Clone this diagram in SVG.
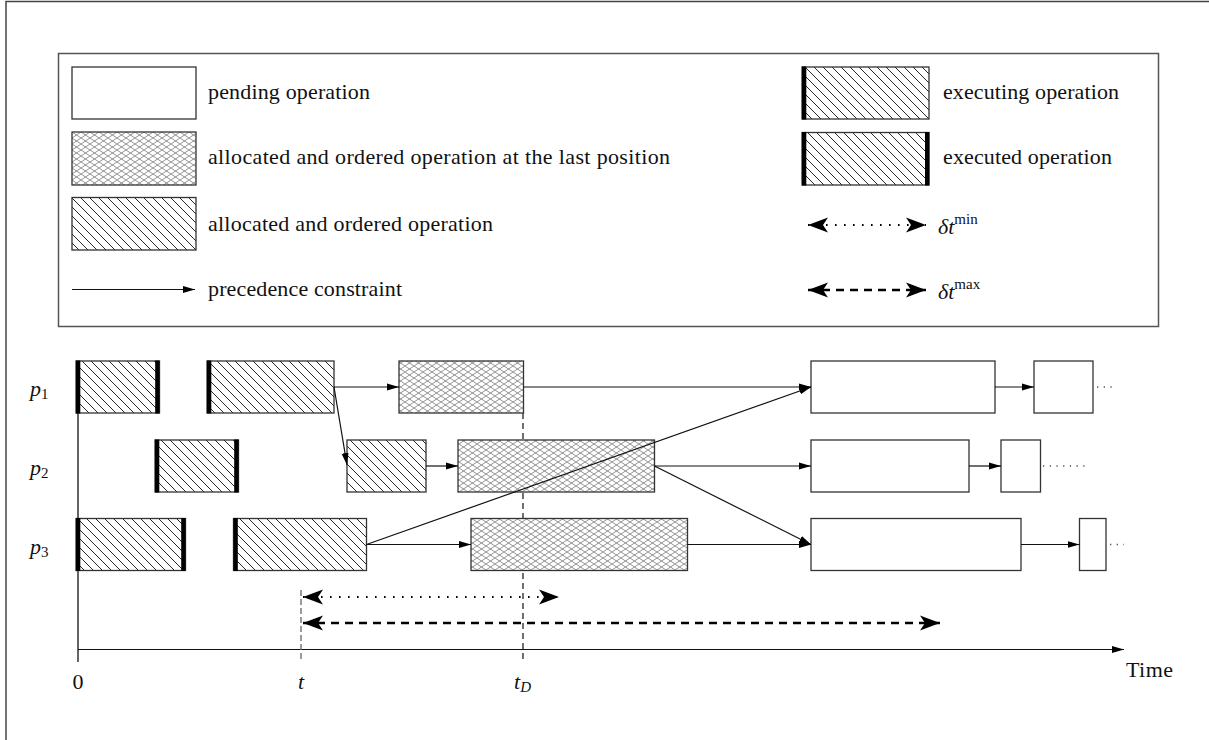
<svg xmlns="http://www.w3.org/2000/svg" width="1209" height="740" viewBox="0 0 1209 740">
<style>
text{font-family:"Liberation Serif","Times New Roman",serif;font-size:22px;fill:#111}
.it{font-style:italic}
.box{stroke:#333;stroke-width:1.3}
.pend{fill:#fff}
.hatch{fill:url(#diag)}
.cross{fill:url(#xh)}
.bar{fill:#000}
.prec{stroke:#111;stroke-width:1.2;fill:none;marker-end:url(#ah)}
.dmin{stroke:#000;stroke-width:2.2;fill:none;stroke-dasharray:1.6 7.4;marker-start:url(#big);marker-end:url(#big)}
.dmax{stroke:#000;stroke-width:2.6;fill:none;stroke-dasharray:8 6;marker-start:url(#big);marker-end:url(#big)}
.trail{stroke:#555;stroke-width:1.3;fill:none;stroke-dasharray:1.3 5.4}
</style>
<defs>
<pattern id="diag" patternUnits="userSpaceOnUse" width="9" height="9">
<rect width="9" height="9" fill="#fff"/>
<path d="M0,0 L9,9 M-3,6 L3,12 M6,-3 L12,3" stroke="#111" stroke-width="0.9"/>
</pattern>
<pattern id="xh" patternUnits="userSpaceOnUse" width="9" height="6">
<rect width="9" height="6" fill="#fff"/>
<path d="M0,0 L9,6 M0,6 L9,0" stroke="#777" stroke-width="0.8"/>
</pattern>
<marker id="ah" markerUnits="userSpaceOnUse" viewBox="0 0 12 8" refX="12" refY="4" markerWidth="12" markerHeight="8" orient="auto">
<path d="M0,0.5 L12,4 L0,7.5 z" fill="#000"/>
</marker>
<marker id="big" markerUnits="userSpaceOnUse" viewBox="-21 -8 22 16" refX="0" refY="0" markerWidth="22" markerHeight="16" orient="auto-start-reverse">
<path d="M0,0 L-20,-7.5 L-15,0 L-20,7.5 z" fill="#000"/>
</marker>
</defs>
<rect width="1209" height="740" fill="#fff"/>
<path d="M6,740 V1.5 H1209" fill="none" stroke="#444" stroke-width="1.5"/>

<g id="legend">
<rect x="58.5" y="53.5" width="1100" height="273" fill="none" stroke="#555" stroke-width="1.5"/>
<g id="leg-pending"><rect class="box pend" x="72" y="67" width="124" height="52"/><text x="208" y="98.5" textLength="162">pending operation</text></g>
<g id="leg-last"><rect class="box cross" x="72" y="132" width="124" height="53"/><text x="208" y="163.5" textLength="462">allocated and ordered operation at the last position</text></g>
<g id="leg-alloc"><rect class="box hatch" x="72" y="197.5" width="124" height="52.5"/><text x="208" y="230.5" textLength="285">allocated and ordered operation</text></g>
<g id="leg-prec"><line class="prec" x1="72" y1="289.5" x2="195" y2="289.5"/><text x="208" y="295.5" textLength="194">precedence constraint</text></g>
<g id="leg-executing"><rect class="box hatch" x="802" y="67" width="127" height="52"/><rect class="bar" x="802" y="66.5" width="4.3" height="53"/><text x="943" y="98.5" textLength="176">executing operation</text></g>
<g id="leg-executed"><rect class="box hatch" x="802" y="132.5" width="127" height="52.5"/><rect class="bar" x="802" y="132" width="4.3" height="53.5"/><rect class="bar" x="925" y="132" width="4.3" height="53.5"/><text x="943" y="163.5" textLength="169">executed operation</text></g>
<g id="leg-dmin"><line class="dmin" x1="808" y1="225" x2="926" y2="225"/><text x="938" y="234" class="it">δt<tspan font-style="normal" font-size="15" dy="-10">min</tspan></text></g>
<g id="leg-dmax"><line class="dmax" x1="808" y1="290" x2="926" y2="290"/><text x="938" y="299" class="it">δt<tspan font-style="normal" font-size="15" dy="-10">max</tspan></text></g>
</g>

<g id="labels">
<text x="30" y="396" class="it">p<tspan font-style="normal" font-size="15" dy="3">1</tspan></text>
<text x="30" y="475" class="it">p<tspan font-style="normal" font-size="15" dy="3">2</tspan></text>
<text x="30" y="554" class="it">p<tspan font-style="normal" font-size="15" dy="3">3</tspan></text>
</g>

<g id="axes">
<line x1="78" y1="413" x2="78" y2="662" stroke="#111" stroke-width="1.3"/>
<line class="prec" x1="78" y1="649.5" x2="1124" y2="649.5"/>
<line x1="301" y1="590" x2="301" y2="662" stroke="#666" stroke-width="1.3" stroke-dasharray="6 3"/>
<line x1="523" y1="413" x2="523" y2="662" stroke="#111" stroke-width="1.2" stroke-dasharray="6 4"/>
<text x="78" y="688.5" text-anchor="middle">0</text>
<text x="301" y="688.5" text-anchor="middle" class="it">t</text>
<text x="514" y="688.5" class="it">t<tspan font-size="15" dy="3">D</tspan></text>
<text x="1126" y="677" textLength="47">Time</text>
</g>

<g id="nodes">
<g id="A1"><rect class="box hatch" x="76" y="361" width="83.5" height="52"/><rect class="bar" x="76" y="360.5" width="4.3" height="53"/><rect class="bar" x="155.2" y="360.5" width="4.3" height="53"/></g>
<g id="A2"><rect class="box hatch" x="207" y="361" width="127" height="52"/><rect class="bar" x="207" y="360.5" width="4.3" height="53"/></g>
<g id="A3"><rect class="box cross" x="399" y="361" width="124.5" height="52"/></g>
<g id="A4"><rect class="box pend" x="811" y="361" width="184" height="52"/></g>
<g id="A5"><rect class="box pend" x="1034" y="361" width="59" height="52"/></g>

<g id="B1"><rect class="box hatch" x="155" y="440" width="83.5" height="52"/><rect class="bar" x="155" y="439.5" width="4.3" height="53"/><rect class="bar" x="234.2" y="439.5" width="4.3" height="53"/></g>
<g id="B2"><rect class="box hatch" x="347" y="440" width="79" height="52"/></g>
<g id="B3"><rect class="box cross" x="458" y="440" width="196.5" height="52"/></g>
<g id="B4"><rect class="box pend" x="811" y="440" width="158" height="52"/></g>
<g id="B5"><rect class="box pend" x="1001" y="440" width="39.5" height="52"/></g>

<g id="C1"><rect class="box hatch" x="76" y="518.5" width="109.5" height="52"/><rect class="bar" x="76" y="518" width="4.3" height="53"/><rect class="bar" x="181.2" y="518" width="4.3" height="53"/></g>
<g id="C2"><rect class="box hatch" x="233.5" y="518.5" width="133" height="52"/><rect class="bar" x="233.5" y="518" width="4.3" height="53"/></g>
<g id="C3"><rect class="box cross" x="471" y="518.5" width="216.5" height="52"/></g>
<g id="C4"><rect class="box pend" x="811" y="518.5" width="210" height="52"/></g>
<g id="C5"><rect class="box pend" x="1079.5" y="518.5" width="26.5" height="52"/></g>
</g>

<g id="connectors">
<line class="prec" x1="334" y1="387" x2="399" y2="387"/>
<line class="prec" x1="334" y1="387" x2="347" y2="465"/>
<line class="prec" x1="426" y1="466" x2="458" y2="466"/>
<line class="prec" x1="523.5" y1="387" x2="811" y2="387"/>
<line class="prec" x1="366.5" y1="544.5" x2="811" y2="387"/>
<line class="prec" x1="366.5" y1="544.5" x2="471" y2="544.5"/>
<line class="prec" x1="654.5" y1="466" x2="811" y2="466"/>
<line class="prec" x1="654.5" y1="466" x2="811" y2="544.5"/>
<line class="prec" x1="687.5" y1="544.5" x2="811" y2="544.5"/>
<line class="prec" x1="995" y1="387" x2="1034" y2="387"/>
<line class="prec" x1="969" y1="466" x2="1001" y2="466"/>
<line class="prec" x1="1021" y1="544.5" x2="1079.5" y2="544.5"/>
<line class="trail" x1="1097" y1="387" x2="1112" y2="387"/>
<line class="trail" x1="1043" y1="466" x2="1085" y2="466" stroke="#111"/>
<line class="trail" x1="1110" y1="544.5" x2="1124" y2="544.5"/>
<line class="dmin" x1="303" y1="597" x2="559" y2="597"/>
<line class="dmax" x1="303" y1="623" x2="940" y2="623"/>
</g>
</svg>
